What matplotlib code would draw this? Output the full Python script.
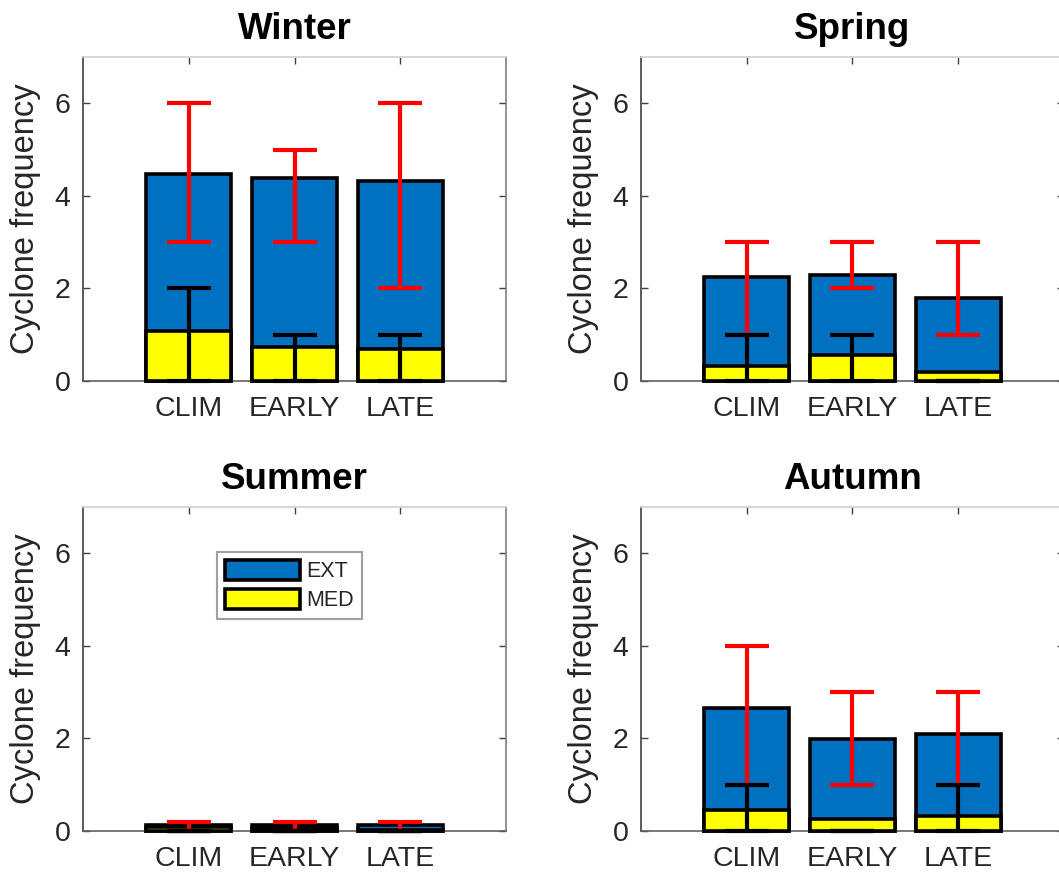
import numpy as np
import matplotlib
matplotlib.use('Agg')
import matplotlib.pyplot as plt

plt.rcParams['font.family'] = ['Liberation Sans', 'DejaVu Sans']

# data
seasons = ['Winter', 'Spring', 'Summer', 'Autumn']
categories = ['CLIM', 'EARLY', 'LATE']

ext_freq = [[4.47, 4.39, 4.32],
            [2.25, 2.30, 1.80],
            [0.13, 0.12, 0.13],
            [2.65, 1.98, 2.10]]
med_freq = [[1.09, 0.74, 0.69],
            [0.33, 0.56, 0.20],
            [0.08, 0.07, 0.02],
            [0.45, 0.26, 0.33]]

# error ranges (lower, upper)
ext_low = [[3, 3, 2], [1, 2, 1], [0, 0, 0], [1, 1, 1]]
ext_high = [[6, 5, 6], [3, 3, 3], [0.2, 0.2, 0.2], [4, 3, 3]]
med_low = [[0, 0, 0], [0, 0, 0], [0, 0, 0], [0, 0, 0]]
med_high = [[2, 1, 1], [1, 1, 0], [0, 0, 0], [1, 0, 1]]

blue = '#0070C0'
yellow = '#FFFF00'

fig = plt.figure(figsize=(10.59, 8.81), dpi=100)

# axes positions (fig coords)
lefts = [0.0784, 0.6053, 0.0784, 0.6053]
bottoms = [0.5675, 0.5675, 0.0568, 0.0568]
w, h = 0.3994, 0.3678

x = np.arange(1, 4)

for i, season in enumerate(seasons):
    ax = fig.add_axes([lefts[i], bottoms[i], w, h])
    ext = np.array(ext_freq[i])
    med = np.array(med_freq[i])

    b1 = ax.bar(x, ext, width=0.8, color=blue, edgecolor='black', linewidth=2.6,
                label='EXT', zorder=2)
    b2 = ax.bar(x, med, width=0.8, color=yellow, edgecolor='black', linewidth=2.6,
                label='MED', zorder=3)
    for p in list(b1) + list(b2):
        p.set_clip_on(False)

    # red = EXT range, black = MED range
    mid = (np.array(ext_low[i]) + np.array(ext_high[i])) / 2
    err = (np.array(ext_high[i]) - np.array(ext_low[i])) / 2
    e1 = ax.errorbar(x, mid, yerr=err, fmt='none', ecolor='red', elinewidth=3,
                     capsize=16, capthick=3, zorder=4)
    mid = (np.array(med_low[i]) + np.array(med_high[i])) / 2
    err = (np.array(med_high[i]) - np.array(med_low[i])) / 2
    e2 = ax.errorbar(x, mid, yerr=err, fmt='none', ecolor='black', elinewidth=3,
                     capsize=16, capthick=3, zorder=5)
    for c in (e1, e2):
        for a in c.get_children():
            a.set_clip_on(False)

    ax.set_xlim(0, 4)
    ax.set_ylim(0, 7)
    ax.set_xticks(x)
    ax.set_xticklabels(categories)
    ax.set_yticks([0, 2, 4, 6])
    ax.tick_params(direction='in', length=5, width=1, colors='#404040',
                   labelsize=20.5, top=True, right=True)
    ax.tick_params(axis='x', pad=11)
    ax.tick_params(axis='y', pad=9)
    for lbl in ax.get_xticklabels() + ax.get_yticklabels():
        lbl.set_color('#262626')

    ax.spines['left'].set_color('#404040')
    ax.spines['bottom'].set_color('#606060')
    ax.spines['right'].set_color('#808080')
    ax.spines['top'].set_color('#d0d0d0')
    for s in ax.spines.values():
        s.set_linewidth(1.2)

    ax.set_ylabel('Cyclone frequency', fontsize=23.5, color='#262626', labelpad=10)
    ax.set_title(season, fontsize=26.5, fontweight='bold', pad=13)

    if season == 'Summer':
        leg = ax.legend(loc='upper left', bbox_to_anchor=(0.317, 0.861),
                        borderaxespad=0, fontsize=15.5, handlelength=3.5,
                        handleheight=1.1, handletextpad=0.3, labelspacing=0.3,
                        borderpad=0.35, fancybox=False, framealpha=1)
        leg.get_frame().set_edgecolor('#a0a0a0')
        leg.get_frame().set_linewidth(1.5)
        for t in leg.get_texts():
            t.set_color('#262626')

fig.savefig('out.png', dpi=100)
